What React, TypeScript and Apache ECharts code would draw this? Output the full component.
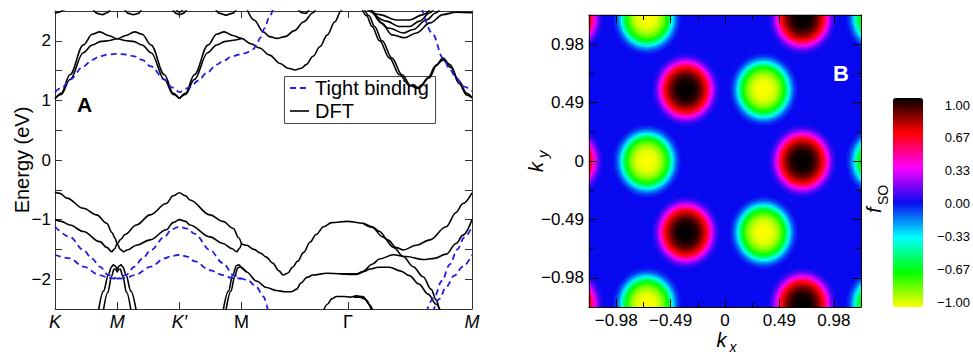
import React, { useEffect, useRef } from 'react';
import * as echarts from 'echarts';

const FONT = '"Liberation Sans", Arial, Helvetica, sans-serif';

// ---------- Panel A: band structure ----------
const kPathTicks = [0, 1, 2, 3, 4.713, 6.706];
const kPathLabels = ['K', 'M', 'K\u2032', 'M', '\u0393', 'M'];
const kPathItalic = [true, true, true, false, false, true];
const energyMin = -2.5;
const energyMax = 2.5;
const legendNames = ['Tight binding', 'DFT'];

// DFT conduction bands
const dftCondA = [[0,1.03],[0.1,1.12],[0.24,1.43],[0.455,1.93],[0.6,2.11],[0.72,2.15],[0.86,2.09],[1.0,2.035],[1.15,2.0],[1.26,1.99],[1.4,1.93],[1.545,1.8],[1.76,1.35],[1.9,1.1],[2.0,1.03]];
const dftCondB = [[0,1.03],[0.1,1.1],[0.24,1.35],[0.455,1.8],[0.6,1.93],[0.74,1.99],[0.85,2.0],[1.0,2.035],[1.14,2.09],[1.28,2.15],[1.4,2.11],[1.545,1.93],[1.76,1.43],[1.9,1.12],[2.0,1.03]];
const dftCondC = [[2.0,1.03],[2.1,1.12],[2.24,1.43],[2.46,1.93],[2.6,2.11],[2.72,2.15],[2.86,2.09],[3.0,2.04],[3.15,1.95],[3.29,1.88],[3.45,1.76],[3.62,1.62],[3.75,1.54],[3.86,1.51],[3.96,1.54],[4.04,1.6],[4.15,1.74],[4.26,1.9],[4.38,2.1],[4.5,2.32],[4.6,2.5],[4.63,2.56]];
const dftCondD = [[2.0,1.03],[2.1,1.1],[2.24,1.35],[2.455,1.8],[2.6,1.93],[2.74,1.99],[2.87,2.01],[3.0,2.04]];
const dftCondE = [[3.08,2.55],[3.2,2.35],[3.35,2.15],[3.45,2.07],[3.57,2.04],[3.7,2.07],[3.85,2.17],[4.0,2.32],[4.15,2.47],[4.2,2.55]];
const dftCondF = [[4.93,2.55],[5.01,2.42],[5.1,2.24],[5.22,2.0],[5.38,1.71],[5.54,1.43],[5.7,1.25],[5.85,1.2],[6.0,1.38],[6.12,1.58],[6.24,1.71],[6.35,1.6],[6.5,1.32],[6.62,1.12],[6.706,1.05]];
const dftCondG = [[4.97,2.55],[5.05,2.42],[5.14,2.24],[5.26,2.0],[5.42,1.71],[5.58,1.43],[5.72,1.25],[5.86,1.22],[6.02,1.38],[6.14,1.6],[6.24,1.68],[6.37,1.55],[6.5,1.28],[6.62,1.09],[6.706,1.04]];
const dftCondH = [[4.98,2.55],[5.22,2.44],[5.49,2.35],[5.7,2.35],[5.92,2.44],[6.05,2.55]];
const dftCondI = [[5.03,2.55],[5.33,2.33],[5.54,2.24],[5.7,2.24],[5.86,2.33],[6.03,2.47],[6.1,2.55]];
const dftCondJ = [[5.07,2.55],[5.38,2.21],[5.6,2.13],[5.76,2.19],[5.97,2.35],[6.13,2.47],[6.2,2.55]];
const dftCondK = [[5.09,2.55],[5.25,2.3],[5.42,2.1],[5.62,2.05],[5.81,2.13],[6.03,2.3],[6.24,2.44],[6.45,2.48],[6.706,2.47]];
const dftTopArcs = [
  [[0,2.46],[0.07,2.48],[0.14,2.52],[0.2,2.56]],
  [[0.6,2.55],[0.68,2.46],[0.76,2.44],[0.84,2.47],[0.9,2.55]],
  [[1.11,2.55],[1.18,2.46],[1.26,2.44],[1.34,2.46],[1.4,2.55]],
  [[1.88,2.55],[1.95,2.46],[2.0,2.44],[2.06,2.46],[2.13,2.55]],
  [[1.93,2.55],[2.0,2.48],[2.08,2.55]],
  [[2.57,2.55],[2.65,2.46],[2.75,2.43],[2.85,2.46],[2.93,2.55]],
  [[3.9,2.55],[3.97,2.47],[4.03,2.46],[4.1,2.55]],
];

// DFT valence bands
const dftValP = [[0,-0.54],[0.08,-0.56],[0.19,-0.64],[0.455,-0.81],[0.67,-0.92],[0.83,-1.06],[0.92,-1.22],[0.964,-1.31],[1.0,-1.40],[1.05,-1.50],[1.1,-1.54],[1.16,-1.51],[1.31,-1.43],[1.53,-1.34],[1.79,-1.17],[1.9,-1.05],[2.0,-1.0],[2.1,-1.03],[2.17,-1.09],[2.49,-1.29],[2.70,-1.40],[2.85,-1.49],[2.92,-1.54],[2.97,-1.48],[3.0,-1.41],[3.08,-1.43],[3.2,-1.5],[3.3,-1.56],[3.4,-1.63],[3.5,-1.73],[3.6,-1.86],[3.67,-1.93],[3.74,-1.9],[3.82,-1.8],[3.9,-1.7],[4.0,-1.55],[4.1,-1.38],[4.2,-1.25],[4.32,-1.12],[4.45,-1.05],[4.7,-1.03],[4.95,-1.06],[5.1,-1.12],[5.22,-1.2],[5.35,-1.34],[5.49,-1.47],[5.6,-1.51],[5.81,-1.43],[6.03,-1.34],[6.29,-1.12],[6.45,-0.88],[6.56,-0.73],[6.706,-0.55]];
const dftValQ = [[0,-1.0],[0.1,-1.03],[0.24,-1.09],[0.455,-1.20],[0.72,-1.37],[0.84,-1.47],[0.91,-1.54],[0.96,-1.49],[1.0,-1.40],[1.06,-1.33],[1.125,-1.25],[1.31,-1.09],[1.53,-0.92],[1.79,-0.73],[1.9,-0.6],[2.0,-0.55],[2.1,-0.6],[2.17,-0.67],[2.49,-0.92],[2.70,-1.03],[2.87,-1.15],[2.95,-1.3],[3.0,-1.41]];
const dftValQ2 = [[4.95,-1.06],[5.1,-1.13],[5.27,-1.29],[5.45,-1.47],[5.6,-1.62],[5.76,-1.79],[5.92,-1.96],[6.05,-2.17],[6.13,-2.35],[6.19,-2.5],[6.21,-2.6]];
const dftValR = [[2.70,-2.55],[2.79,-2.2],[2.86,-1.92],[2.92,-1.77],[2.96,-1.76],[3.0,-1.8],[3.08,-1.88],[3.24,-2.03],[3.4,-2.14],[3.56,-2.19],[3.7,-2.21],[3.8,-2.21],[3.88,-2.17],[3.96,-2.06],[4.05,-1.97],[4.15,-1.93],[4.37,-1.9],[4.6,-1.91],[4.85,-1.91],[4.95,-1.87],[5.1,-1.75],[5.22,-1.66],[5.44,-1.59],[5.65,-1.62],[5.92,-1.67],[6.1,-1.65],[6.29,-1.58],[6.45,-1.4],[6.56,-1.26],[6.706,-1.0]];
const dftValS = [[2.745,-2.55],[2.83,-2.2],[2.89,-1.95],[2.94,-1.81],[2.98,-1.79],[3.02,-1.83],[3.08,-1.88]];
const dftValT = [[4.6,-1.91],[4.85,-1.92],[5.0,-1.86],[5.06,-1.83],[5.2,-1.8],[5.38,-1.8],[5.55,-1.86],[5.7,-1.94],[5.85,-2.08],[6.0,-2.25],[6.13,-2.42],[6.2,-2.55]];
const dftValL1 = [[0.696,-2.55],[0.78,-2.2],[0.86,-1.92],[0.91,-1.79],[0.94,-1.76],[0.97,-1.78],[1.0,-1.83],[1.03,-1.78],[1.06,-1.76],[1.09,-1.79],[1.14,-1.92],[1.22,-2.2],[1.31,-2.55]];
const dftValL2 = [[0.775,-2.55],[0.85,-2.22],[0.91,-1.95],[0.95,-1.83],[0.98,-1.84],[1.0,-1.88],[1.02,-1.84],[1.05,-1.83],[1.09,-1.95],[1.15,-2.22],[1.225,-2.55]];
const dftValB1 = [[4.31,-2.55],[4.38,-2.42],[4.45,-2.33],[4.53,-2.29],[4.65,-2.29],[4.74,-2.3],[4.85,-2.28],[4.95,-2.29],[5.02,-2.36],[5.07,-2.46],[5.09,-2.55]];
const dftValB2 = [[4.8,-2.3],[4.9,-2.3],[4.98,-2.33],[5.05,-2.42],[5.12,-2.55]];

// Tight-binding bands
const tbCond1 = [[0,1.14],[0.12,1.22],[0.24,1.35],[0.455,1.57],[0.6,1.68],[0.72,1.74],[0.86,1.77],[1.0,1.78],[1.14,1.77],[1.28,1.74],[1.4,1.68],[1.545,1.57],[1.76,1.35],[1.88,1.22],[2.0,1.14],[2.17,1.22],[2.3,1.33],[2.44,1.46],[2.6,1.6],[2.7,1.66],[2.85,1.74],[2.97,1.77],[3.05,1.79],[3.13,1.82],[3.19,1.86],[3.24,1.93],[3.3,2.05],[3.37,2.21],[3.44,2.38],[3.51,2.55]];
const tbCond2 = [[5.9,2.55],[6.07,2.12],[6.24,1.71],[6.35,1.52],[6.45,1.38],[6.58,1.23],[6.706,1.15]];
const tbVal1 = [[0,-1.12],[0.24,-1.29],[0.455,-1.51],[0.6,-1.66],[0.72,-1.79],[0.86,-1.93],[1.0,-1.99],[1.14,-1.93],[1.28,-1.79],[1.4,-1.66],[1.545,-1.51],[1.76,-1.29],[1.88,-1.16],[2.0,-1.12],[2.12,-1.15],[2.25,-1.24],[2.49,-1.51],[2.70,-1.73],[2.87,-1.93],[3.0,-1.99],[3.1,-2.02],[3.24,-2.13],[3.35,-2.29],[3.43,-2.55]];
const tbVal2 = [[0,-1.59],[0.24,-1.65],[0.455,-1.79],[0.72,-1.93],[0.86,-1.98],[1.0,-1.99],[1.14,-1.98],[1.28,-1.93],[1.545,-1.79],[1.76,-1.65],[1.88,-1.61],[2.0,-1.59],[2.12,-1.62],[2.25,-1.7],[2.49,-1.85],[2.70,-1.93],[2.85,-1.98],[3.0,-1.99]];
const tbVal3 = [[5.97,-2.55],[6.1,-2.3],[6.22,-2.03],[6.35,-1.75],[6.47,-1.5],[6.58,-1.3],[6.706,-1.12]];
const tbVal4 = [[6.08,-2.55],[6.18,-2.33],[6.29,-2.13],[6.42,-1.94],[6.56,-1.79],[6.706,-1.59]];

// ---------- Panel B: f_SO map ----------
const kRange = 1.225;
const kAxisTicks = [-0.98, -0.49, 0, 0.49, 0.98];
const kMinorTicks = [-0.735, -0.245, 0.245, 0.735];
const colorbarTicks = [-1, -0.67, -0.33, 0, 0.33, 0.67, 1];
const fsoColors = ['#ffff00', '#00ff00', '#00ffff', '#0a0af0', '#ff00ff', '#ff0000', '#000000'];
// spot centres (f_SO = +1 black, -1 yellow)
const positiveSpots = [[0.70,0],[-0.35,0.60],[-0.35,-0.60],[0.70,1.20],[0.70,-1.20],[-1.40,0],[-1.40,1.20],[-1.40,-1.20]];
const negativeSpots = [[-0.70,0],[0.35,0.60],[0.35,-0.60],[-0.70,1.20],[-0.70,-1.20],[1.40,0],[1.40,1.20],[1.40,-1.20]];
// radial profile of a spot
const spotRadius = [0, 0.05, 0.09, 0.13, 0.16, 0.19, 0.22, 0.25, 0.28, 0.31];
const spotValue = [1, 0.99, 0.96, 0.87, 0.77, 0.64, 0.42, 0.2, 0.06, 0];
const heatCellsX = 136;
const heatCellsY = 146;

function profile(d: number) {
  if (d >= spotRadius[spotRadius.length - 1]) return 0;
  for (let i = 1; i < spotRadius.length; i++) {
    if (d <= spotRadius[i]) {
      const t = (d - spotRadius[i - 1]) / (spotRadius[i] - spotRadius[i - 1]);
      return spotValue[i - 1] + t * (spotValue[i] - spotValue[i - 1]);
    }
  }
  return 0;
}

function buildHeat() {
  const data: number[][] = [];
  const sx = (2 * kRange) / heatCellsX;
  const sy = (2 * kRange) / heatCellsY;
  for (let i = 0; i < heatCellsX; i++) {
    const x = -kRange + (i + 0.5) * sx;
    for (let j = 0; j < heatCellsY; j++) {
      const y = -kRange + (j + 0.5) * sy;
      let v = 0;
      for (const p of positiveSpots) v += profile(Math.hypot(x - p[0], y - p[1]));
      for (const p of negativeSpots) v -= profile(Math.hypot(x - p[0], y - p[1]));
      data.push([i, j, Math.max(-1, Math.min(1, v))]);
    }
  }
  return data;
}

const minus = (s: string) => s.replace('-', '\u2212');
const fmtK = (v: number) => (Math.abs(v) < 1e-9 ? '0' : minus(v.toFixed(2)));
const fmtBar = (v: number) => (Math.abs(v) < 1e-9 ? '0.00' : minus(v.toFixed(2)));

export default function App() {
  const ref = useRef<HTMLDivElement>(null);
  useEffect(() => {
    if (!ref.current) return;
    const chart = echarts.init(ref.current, undefined, { renderer: 'svg' });
    const gray = { color: '#333', width: 1 };
    const black = { color: '#000', width: 1 };
    const tbStyle = { color: '#1f1fe0', width: 1.8, type: [6, 4] };
    const dftStyle = { color: '#000', width: 1.6 };

    const dftList = [dftCondA, dftCondB, dftCondC, dftCondD, dftCondE, dftCondF, dftCondG, dftCondH, dftCondI, dftCondJ, dftCondK, ...dftTopArcs,
      dftValP, dftValQ, dftValQ2, dftValR, dftValS, dftValT, dftValL1, dftValL2, dftValB1, dftValB2];
    const tbList = [tbCond1, tbCond2, tbVal1, tbVal2, tbVal3, tbVal4];

    const lineSeries = (name: string, data: number[][], dashed: boolean) => ({
      type: 'line', name, data, xAxisIndex: 0, yAxisIndex: 0, symbol: 'none',
      smooth: 0.35, smoothMonotone: 'x', clip: true, silent: true, z: dashed ? 3 : 2,
      lineStyle: dashed ? tbStyle : dftStyle,
      itemStyle: { color: dashed ? tbStyle.color : dftStyle.color },
      emphasis: { disabled: true },
    });

    const xLabelFmt = (v: number) => {
      const i = kPathTicks.findIndex((t) => Math.abs(t - v) < 1e-3);
      if (i < 0) return '';
      return kPathItalic[i] ? `{i|${kPathLabels[i]}}` : `{u|${kPathLabels[i]}}`;
    };
    const heatXCats = Array.from({ length: heatCellsX }, (_, i) => String(i));
    const heatYCats = Array.from({ length: heatCellsY }, (_, i) => String(i));

    const heatValueAxis = (pos: string, ticks: number[], len: number, labels: boolean, line: boolean) => ({
      gridIndex: 1, type: 'value', min: -kRange, max: kRange, position: pos, z: 5,
      axisLine: { show: line, onZero: false, lineStyle: black },
      axisTick: { show: true, inside: true, length: len, customValues: ticks, lineStyle: black },
      axisLabel: labels ? { show: true, customValues: kAxisTicks, formatter: fmtK, fontSize: 17, fontFamily: FONT, color: '#000', margin: 5 } : { show: false },
      splitLine: { show: false },
    });

    const option: any = {
      animation: false,
      backgroundColor: '#fff',
      textStyle: { fontFamily: FONT },
      grid: [
        { left: 55, top: 11, width: 417, height: 298 },
        { left: 589, top: 15, width: 272, height: 292 },
        { left: 893, top: 105, width: 30, height: 197 },
      ],
      visualMap: {
        type: 'continuous', min: -1, max: 1, seriesIndex: 0, left: 893, top: 98,
        itemWidth: 30, itemHeight: 209, padding: 0, calculable: false,
        inRange: { color: fsoColors },
      },
      xAxis: [
        { gridIndex: 0, type: 'value', min: 0, max: 6.706, position: 'bottom',
          axisLine: { show: true, onZero: false, lineStyle: gray },
          axisTick: { show: true, inside: true, length: 7, customValues: kPathTicks, lineStyle: gray },
          axisLabel: { show: true, customValues: kPathTicks, formatter: xLabelFmt, margin: 4,
            rich: { i: { fontStyle: 'italic', fontSize: 18, fontFamily: FONT, color: '#000' }, u: { fontSize: 18, fontFamily: FONT, color: '#000' } } },
          splitLine: { show: false } },
        { gridIndex: 0, type: 'value', min: 0, max: 6.706, position: 'top',
          axisLine: { show: true, onZero: false, lineStyle: gray },
          axisTick: { show: true, inside: true, length: 7, customValues: kPathTicks, lineStyle: gray },
          axisLabel: { show: false }, splitLine: { show: false } },
        { gridIndex: 1, type: 'category', data: heatXCats, show: false },
        heatValueAxis('bottom', kAxisTicks, 8, true, true),
        heatValueAxis('bottom', kMinorTicks, 5, false, false),
        heatValueAxis('top', kAxisTicks, 8, false, true),
        heatValueAxis('top', kMinorTicks, 5, false, false),
        { gridIndex: 2, type: 'value', min: 0, max: 1, show: false },
      ],
      yAxis: [
        { gridIndex: 0, type: 'value', min: energyMin, max: energyMax, interval: 0.5, position: 'left',
          axisLine: { show: true, onZero: false, lineStyle: gray },
          axisTick: { show: true, inside: true, length: 7, lineStyle: gray },
          axisLabel: { show: true, fontSize: 17, fontFamily: FONT, color: '#000', margin: 4,
            formatter: (v: number) => (Math.abs(v - Math.round(v)) < 1e-6 ? minus(String(Math.round(v))) : '') },
          splitLine: { show: false } },
        { gridIndex: 0, type: 'value', min: energyMin, max: energyMax, interval: 0.5, position: 'right',
          axisLine: { show: true, onZero: false, lineStyle: gray },
          axisTick: { show: true, inside: true, length: 7, lineStyle: gray },
          axisLabel: { show: false }, splitLine: { show: false } },
        { gridIndex: 1, type: 'category', data: heatYCats, show: false },
        heatValueAxis('left', kAxisTicks, 8, true, true),
        heatValueAxis('left', kMinorTicks, 5, false, false),
        heatValueAxis('right', kAxisTicks, 8, false, true),
        heatValueAxis('right', kMinorTicks, 5, false, false),
        { gridIndex: 2, type: 'value', min: -1, max: 1, position: 'right',
          axisLine: { show: false }, axisTick: { show: false }, splitLine: { show: false },
          axisLabel: { show: true, customValues: colorbarTicks, formatter: fmtBar, fontSize: 13, fontFamily: FONT, color: '#000', margin: 48, align: 'right' } },
      ],
      series: [
        { type: 'heatmap', xAxisIndex: 2, yAxisIndex: 2, data: buildHeat(), progressive: 0, silent: true,
          itemStyle: { borderWidth: 0 }, emphasis: { disabled: true } },
        ...dftList.map((d) => lineSeries(legendNames[1], d, false)),
        ...tbList.map((d) => lineSeries(legendNames[0], d, true)),
      ],
      graphic: [
        { type: 'text', x: 22, y: 160, rotation: Math.PI / 2,
          style: { text: 'Energy (eV)', fontSize: 20, fontFamily: FONT, fill: '#000', align: 'center', verticalAlign: 'middle' } },
        { type: 'text', x: 77, y: 104, style: { text: 'A', fontSize: 21, fontWeight: 'bold', fontFamily: FONT, fill: '#000', align: 'left', verticalAlign: 'middle' } },
        // legend box
        { type: 'group', z: 100, children: [
          { type: 'rect', shape: { x: 284.5, y: 76.5, width: 151, height: 47 }, style: { fill: '#fff', stroke: '#444', lineWidth: 1 } },
          { type: 'line', shape: { x1: 290, y1: 88, x2: 309, y2: 88 }, style: { stroke: tbStyle.color, lineWidth: 1.8, lineDash: [6, 4] } },
          { type: 'text', x: 315, y: 88, style: { text: legendNames[0], fontSize: 20, fontFamily: FONT, fill: '#000', align: 'left', verticalAlign: 'middle' } },
          { type: 'line', shape: { x1: 290, y1: 111, x2: 309, y2: 111 }, style: { stroke: '#000', lineWidth: 1.6 } },
          { type: 'text', x: 315, y: 111, style: { text: legendNames[1], fontSize: 20, fontFamily: FONT, fill: '#000', align: 'left', verticalAlign: 'middle' } },
        ] },
        { type: 'text', x: 833, y: 73, z: 20, style: { text: 'B', fontSize: 22, fontWeight: 'bold', fontFamily: FONT, fill: '#fff', align: 'left', verticalAlign: 'middle' } },
        { type: 'text', x: 716.5, y: 339.5, style: { text: 'k', fontSize: 20, fontStyle: 'italic', fontFamily: FONT, fill: '#000', align: 'left', verticalAlign: 'middle' } },
        { type: 'text', x: 729.5, y: 346.5, style: { text: 'x', fontSize: 14, fontStyle: 'italic', fontFamily: FONT, fill: '#000', align: 'left', verticalAlign: 'middle' } },
        { type: 'group', x: 543, y: 160, rotation: Math.PI / 2, children: [
          { type: 'text', x: -12, y: -6.9, style: { text: 'k', fontSize: 20, fontStyle: 'italic', fontFamily: FONT, fill: '#000', align: 'left', verticalAlign: 'middle' } },
          { type: 'text', x: 2, y: -0.2, style: { text: 'y', fontSize: 15, fontStyle: 'italic', fontFamily: FONT, fill: '#000', align: 'left', verticalAlign: 'middle' } },
        ] },
        { type: 'group', x: 881, y: 199, rotation: Math.PI / 2, children: [
          { type: 'text', x: -14, y: -6.9, style: { text: 'f', fontSize: 20, fontStyle: 'italic', fontFamily: FONT, fill: '#000', align: 'left', verticalAlign: 'middle' } },
          { type: 'text', x: -6, y: 2.2, style: { text: 'SO', fontSize: 14, fontFamily: FONT, fill: '#000', align: 'left', verticalAlign: 'middle' } },
        ] },
      ],
    };
    chart.setOption(option);
    return () => chart.dispose();
  }, []);
  return <div ref={ref} style={{ position: 'absolute', left: 0, top: 0, width: 973, height: 355 }} />;
}
